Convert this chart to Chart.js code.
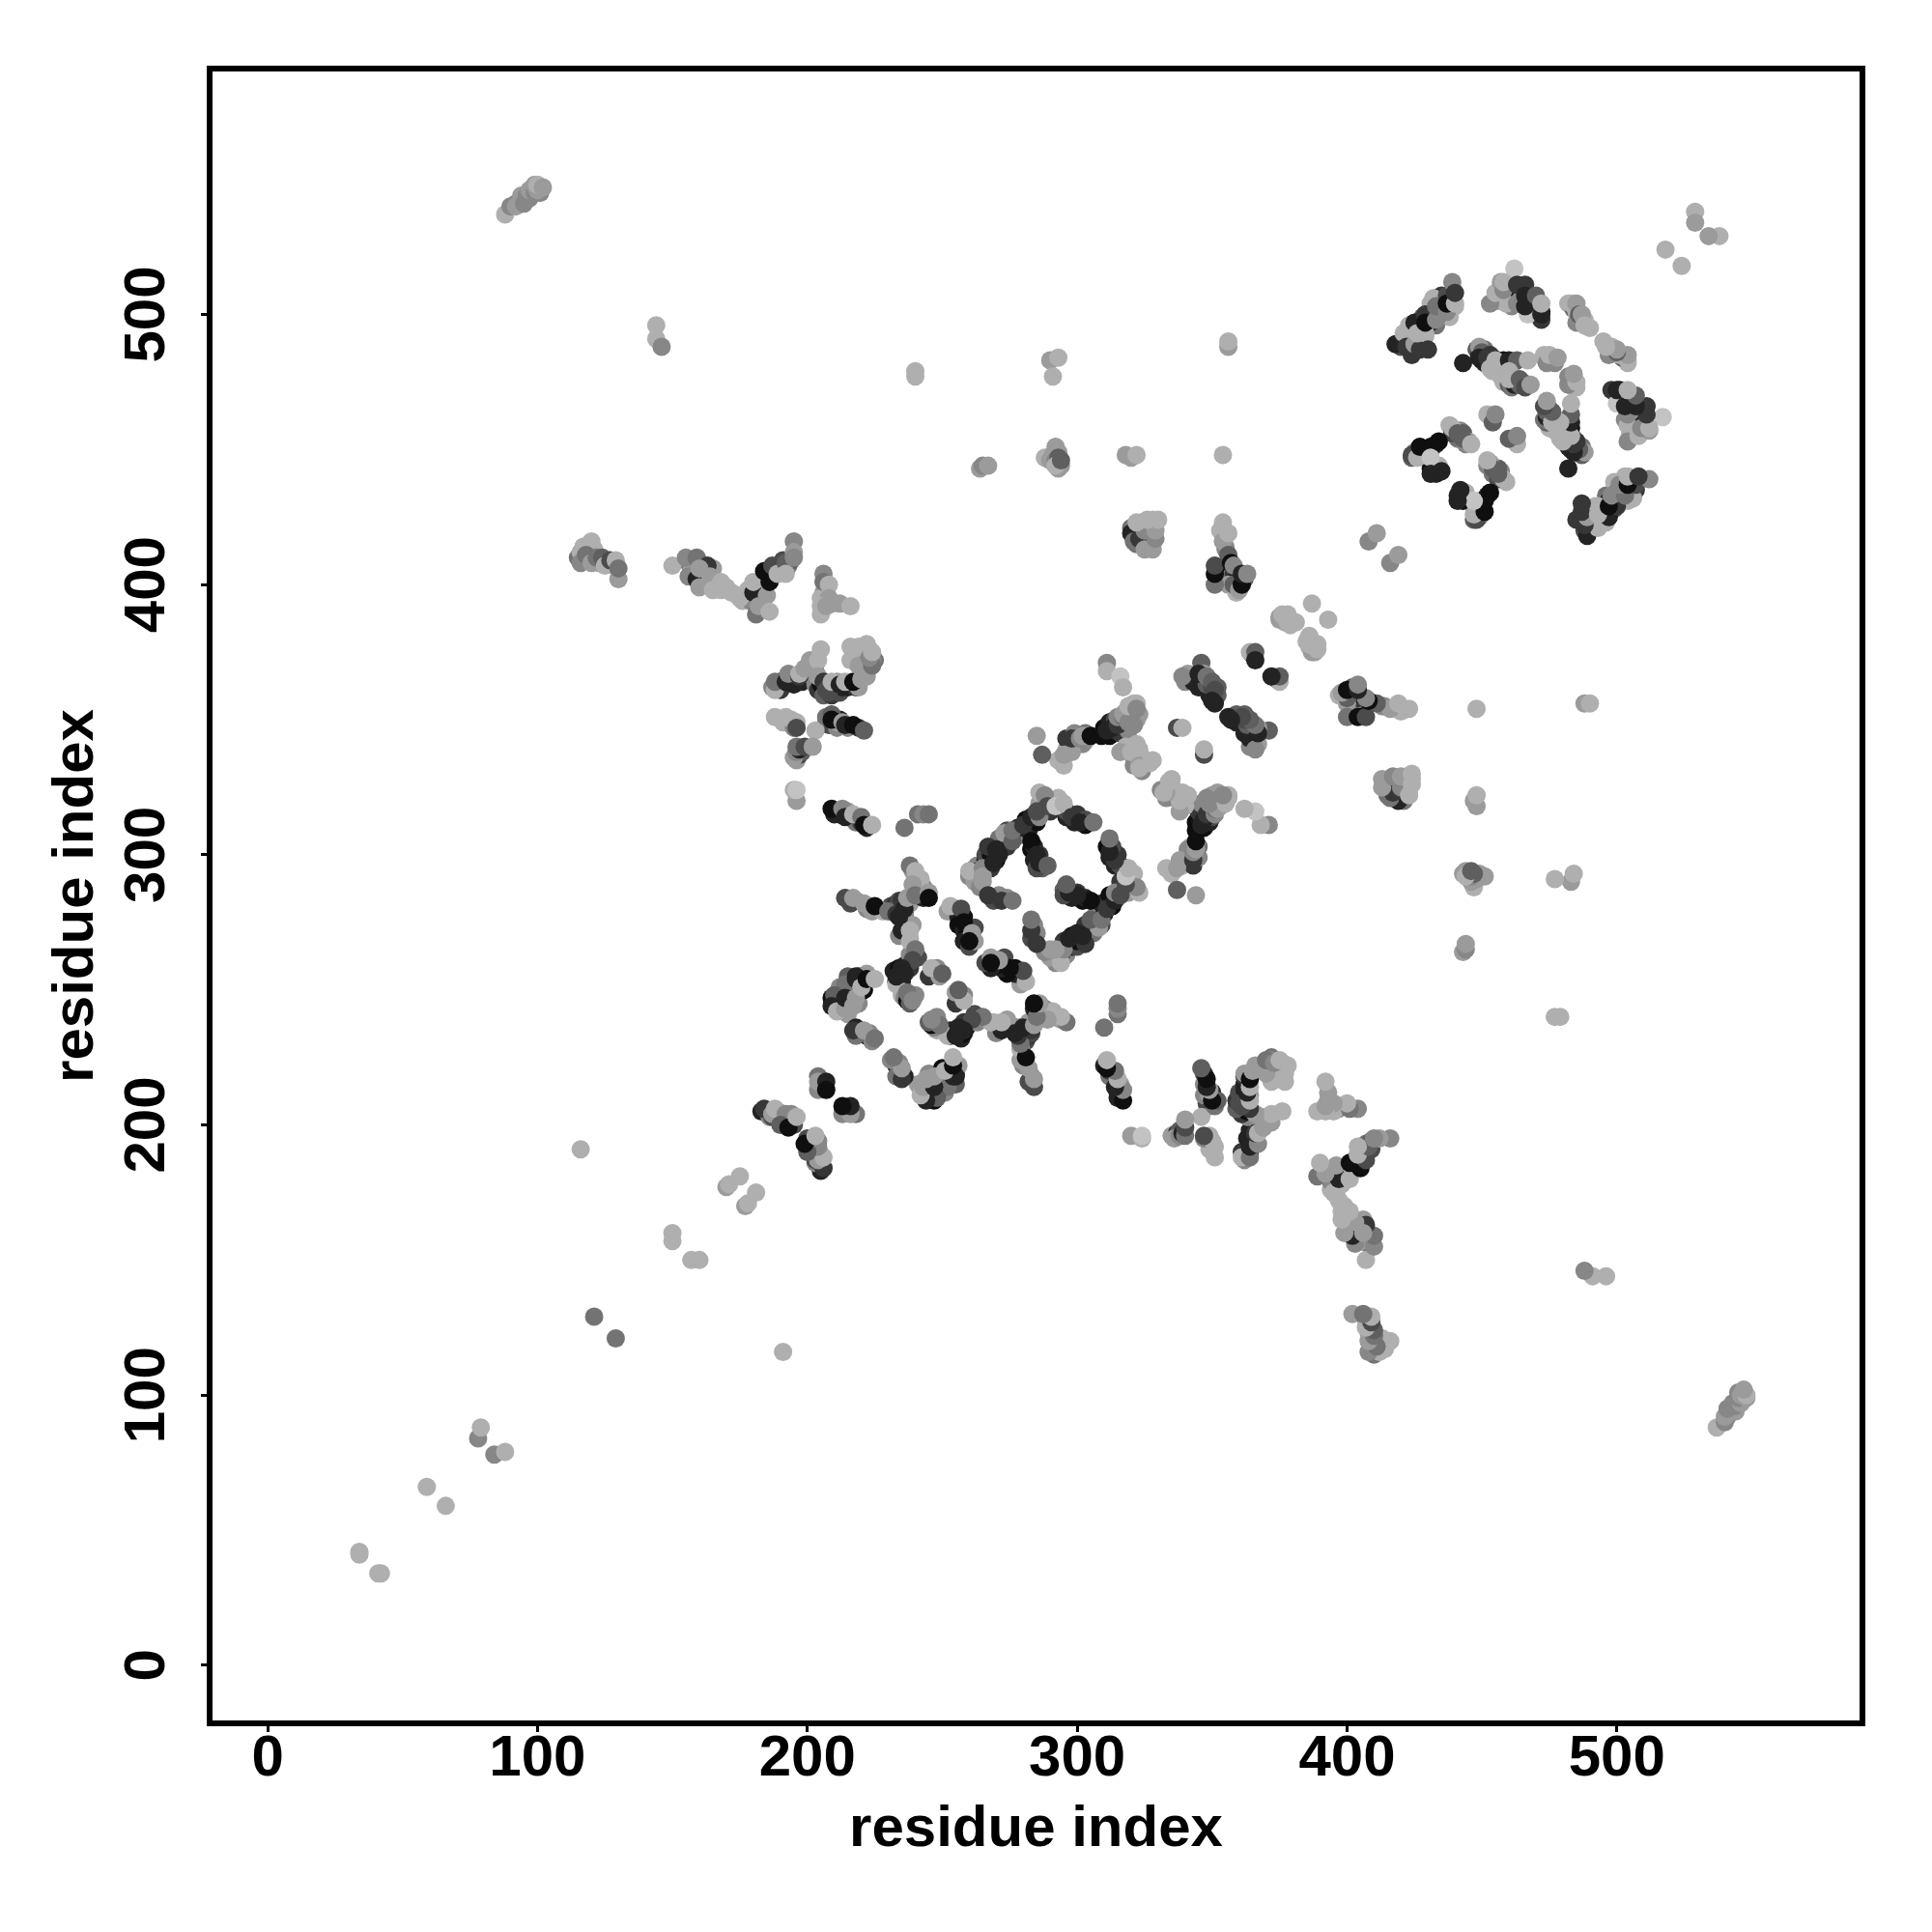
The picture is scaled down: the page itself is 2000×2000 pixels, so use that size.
<!DOCTYPE html>
<html>
<head>
<meta charset="utf-8">
<style>
  html, body { margin: 0; padding: 0; background: #fff; }
  #wrap { width: 2000px; height: 2000px; }
</style>
<script src="https://cdn.jsdelivr.net/npm/chart.js@4"></script>
</head>
<body>
<div id="wrap"><canvas id="contactMap" width="2000" height="2000"></canvas></div>
<script>
// every contact is [i, j, shade], i < j, shade 0 (weak, light) .. 9 (strong, dark)
const tickValues = [0, 100, 200, 300, 400, 500];
const axisTitle = "residue index";

const shortRange = [
  [34,42,1],[34,41,1],[59,66,1],[78,84,3],[79,88,1],[121,129,4],[116,191,1],
  [150,160,1],[150,157,1],[170,177,2],[171,178,1],[175,181,1]
];

const farContacts = [
  [88,537,1],[90,540,3],[92,541,3],[92,540,2],[94,544,2],[95,541,3],[97,543,3],[96,544,3],[97,546,2],[99,545,3],[101,545,3],[100,546,2],[99,548,2],[100,548,1],[102,547,2],
  [144,496,1],[144,491,1],[146,488,3],[240,479,1],[240,477,1],
  [264,443,2],[265,444,3],[267,444,2],[290,483,2],[291,477,1],[293,484,1],
  [288,447,1],[291,448,2],[290,446,2],[292,446,3],[292,451,2],[293,449,2],[293,447,5],[294,444,2],[293,443,2],[292,444,1],[294,446,5],
  [318,448,2],[320,447,2],[322,448,1],[356,488,2],[356,490,1],[354,448,1],
  [518,524,1],[529,538,1],[529,534,2],[408,416,3],[411,419,2]
];

const cluster116 = [
  [115,410,4],[117,409,2],[119,412,3],[121,413,1],[123,408,2],[125,409,4],[128,407,1],
  [116,412,1],[117,414,1],[120,416,1],[116,408,3],[118,411,4],[120,408,2],[122,410,4],
  [124,410,5],[125,407,1],[127,409,6],[129,409,1],[130,402,2],[130,406,4]
];

const cluster150 = [
  [156,408,4],[158,407,3],[157,405,2],[160,408,5],[161,403,6],[162,401,3],[165,406,2],[166,400,1],
  [170,399,1],[174,396,1],[176,394,1],[179,394,3],[183,394,1],[182,398,7],[184,400,5],[185,403,9],
  [187,403,9],[188,405,8],[183,402,1],[190,406,6],[191,409,6],[193,407,4],[194,409,5],
  [150,407,1],[155,410,3],[159,410,4],[156,403,3],[163,407,7],[159,402,8],[160,406,2],
  [164,403,2],[160,399,2],[165,398,1],[168,401,1],[168,398,1],[172,397,1],[175,395,1],
  [178,398,1],[180,397,8],[180,401,1],[181,389,4],[182,392,2],[185,396,2],[186,390,1],
  [184,405,9],[186,401,9],[187,407,6],[189,404,1],[192,408,5],[192,404,1],[195,416,3],
  [195,412,2],[195,410,3]
];

const cluster205 = [
  [206,397,2],[207,398,3],[205,395,1],[209,393,2],
  [206,404,3],[206,401,4],[208,400,1],[208,395,2],[205,392,1],[205,389,1],[207,392,2],
  [212,393,2],[216,392,1]
];

const cluster190 = [
  [187,362,3],[189,362,8],[190,361,7],[190,364,9],[194,365,3],[195,363,8],[198,364,8],[200,367,2],
  [202,369,1],[203,368,3],[203,363,3],[204,361,7],[205,363,9],[206,359,5],[208,362,8],[209,359,7],
  [210,361,8],[211,364,2],[212,360,6],[213,362,8],[215,362,8],[218,362,7],[219,362,2],[222,366,2],
  [221,368,2],[218,375,1],[220,373,1],[221,375,1],[223,376,1],[222,371,5],[225,372,4],[224,372,3],
  [188,361,1],[188,364,4],[192,364,8],[193,367,3],[197,366,7],[197,367,1],[199,369,2],
  [201,372,2],[204,372,1],[205,376,1],[204,366,2],[206,364,7],[208,360,6],[207,361,6],
  [209,364,1],[212,363,8],[214,364,1],[217,364,9],[220,365,2],[216,372,1],[219,370,2],
  [216,377,1],[219,377,1],[222,378,1],[224,370,4],[223,373,3],[224,375,1]
];

const cluster345 = [
  [207,349,4],[208,348,6],[211,347,3],[212,350,8],[211,349,2],[215,347,3],[219,347,7],[191,349,1],
  [194,350,1],[195,347,3],[196,335,2],[197,337,7],[198,338,5],[212,315,8],[210,315,8],[215,316,2],
  [218,312,4],[220,312,7],[222,310,8],
  [188,351,1],[192,351,1],[196,349,1],[196,347,6],[203,346,1],[207,351,4],[209,352,5],
  [209,350,9],[213,349,2],[214,348,8],[217,348,9],[221,346,5],
  [195,336,2],[196,338,3],[197,339,8],[196,340,4],[199,340,6],[202,340,2],
  [196,320,2],[195,324,1],[196,324,0],
  [209,317,9],[213,317,3],[214,314,8],[217,315,1],[220,314,4],[221,311,9],[224,311,1],
  [236,310,4],[241,315,4],[243,315,3],[245,315,4]
];

const cluster240 = [
  [231,281,6],[233,282,7],[234,280,8],[236,279,7],[234,283,6],[236,277,7],[237,282,4],[238,282,2],
  [241,289,3],[243,288,3],[243,284,8],[240,292,2],[239,294,2],[236,277,3],[216,282,6],[218,283,6],
  [222,280,3],[224,279,2],[228,279,1],[239,274,2],[234,270,3],[238,269,1],
  [232,257,8],[233,253,8],[234,258,9],[234,255,9],[235,253,8],[236,259,8],[238,258,7],[238,263,3],
  [233,252,1],[241,262,6],[235,248,1],[236,247,3],[237,246,9],[238,245,5],[240,248,3],
  [211,244,9],[212,246,6],[212,249,4],[213,243,9],[216,249,7],[216,252,9],[216,245,3],[215,241,2],
  [219,249,8],[219,245,3],[220,253,3],[209,247,9],[212,251,3],[215,255,5],[219,255,7],[221,250,9],[222,256,2],
  [245,255,7],[248,258,3],[249,255,2],[218,236,8],[222,233,9],[223,234,3],[224,231,3],[218,233,4],
  [204,213,3],[205,216,3],[204,218,4],
  [183,205,8],[186,203,3],[187,203,6],[189,205,4],[190,203,8],[191,201,7],[193,202,4],[194,201,3],[194,204,3],[195,200,6],
  [252,279,2],[255,280,4],[256,277,8],[258,277,9],[256,274,9],[258,272,8],[259,270,9],[261,269,9],[262,273,6],[258,268,8],[260,266,6],[262,268,2],
  [214,284,6],[217,284,2],[221,282,2],[225,281,9],[230,279,4],[233,278,7],[235,283,7],
  [236,280,8],[234,277,8],[235,272,8],[238,272,1],[238,296,4],[240,294,1],[242,291,1],
  [239,289,2],[237,284,2],[240,285,4],[245,286,2],[245,284,9],
  [238,268,1],[240,265,4],[239,261,6],[235,258,8],[233,255,8],[236,256,8],[237,249,4],[239,246,3],
  [214,252,4],[210,248,5],[209,244,8],[211,242,1],[214,243,2],[214,247,8],[218,247,2],
  [217,244,2],[218,255,8],[218,254,8],[220,251,1],[222,254,9],[225,254,1],
  [246,258,1],[250,256,5],[217,235,7],[221,235,2],[225,232,4],
  [204,216,2],[207,216,8],[207,213,9],
  [184,206,7],[187,204,2],[188,206,1],[192,204,3],[190,200,5],[193,199,9],[196,203,1],
  [253,281,1],[257,280,6],[258,275,9],[261,271,2],[260,268,9]
];

const squareContacts = [
  [260,292,3],[262,295,2],[263,296,3],[263,293,3],[262,290,2],[264,288,3],[263,294,7],[266,298,8],
  [266,300,6],[268,300,9],[268,295,7],[270,298,9],[272,302,5],[272,304,3],[271,306,4],[274,306,8],
  [274,309,6],[274,303,7],[278,307,3],[278,310,8],[281,313,9],[282,309,8],[283,312,7],[285,312,9],
  [286,319,2],[287,317,3],[290,316,7],[293,321,1],[296,314,8],[296,316,6],[299,312,8],[300,315,7],
  [303,311,9],[303,313,6],[283,302,9],[284,303,8],[284,298,8],[287,295,5],[286,300,7],[285,295,6],
  [269,283,6],[271,285,3],[274,284,3],
  [260,294,1],[265,295,3],[265,292,2],[265,290,2],[267,285,7],[272,283,7],[276,283,4],
  [267,303,7],[269,297,8],[271,300,8],[270,302,8],[273,308,2],[276,305,5],[276,309,4],
  [280,311,7],[283,314,8],[286,314,3],[285,316,6],[286,323,1],[288,322,3],[289,318,6],
  [292,318,0],[295,319,1],[298,314,7],[301,312,8],[306,312,4],
  [283,305,9],[285,300,8],[286,297,8],[289,296,5]
];

const yArmContacts = [
  [293,335,1],[296,339,1],[296,343,7],[299,345,3],[299,342,8],[300,341,6],[303,342,1],[303,345,4],
  [302,341,3],[309,344,9],[310,347,9],[312,344,9],[312,349,8],[314,346,8],[314,350,6],[316,345,7],
  [316,349,3],[318,347,6],[318,353,2],[319,346,3],[320,351,2],[320,354,2],[322,350,2],[322,356,1],
  [323,352,2],[318,340,1],[321,336,2],[322,341,1],[324,336,1],[321,333,3],[324,331,3],[328,335,1],
  [340,364,3],[341,367,2],[343,364,8],[345,362,8],[347,362,8],[349,361,8],[349,359,8],[348,363,5],
  [350,362,6],[352,359,5],[352,362,5],[351,356,8],[365,374,8],
  [285,344,2],[287,337,5],[295,333,1],[295,337,2],[298,338,2],[298,343,7],[301,343,3],
  [302,344,2],[304,344,2],[305,344,9],[311,346,8],[313,347,8],[315,348,7],[315,351,3],
  [317,351,4],[317,352,2],[319,349,3],[321,348,3],[319,355,1],[321,356,1],[322,354,3],
  [316,338,2],[320,338,1],[323,339,1],[323,333,2],[323,332,1],[327,334,1],
  [337,347,6],[339,347,1],[311,371,3],[311,368,1],[316,366,0],[317,362,1],
  [339,366,3],[346,371,5],[347,367,2],[345,367,8],[348,366,4],[350,364,5],[351,361,6],[350,357,8],
  [364,375,1],[366,375,5],[366,372,8]
];

const cluster320 = [
  [320,421,4],[321,418,8],[322,415,4],[324,420,2],[325,416,7],[327,415,2],[328,418,2],[324,423,1],[328,424,1],[322,420,1],
  [353,420,1],[355,414,2],[355,413,3],[352,405,9],[356,404,9],[357,403,4],[358,404,7],[359,402,8],[361,402,4],[356,400,2],[360,399,7],[359,397,1],[362,402,5],
  [375,388,2],[377,386,1],[381,386,1],[378,389,1],[379,385,1],
  [320,419,8],[321,416,4],[323,417,7],[325,413,2],[328,413,2],[325,420,3],[322,423,1],
  [329,417,3],[329,420,2],[326,424,1],[330,424,1],
  [354,423,1],[354,416,2],[356,419,1],[356,411,5],[351,400,4],[351,404,9],[351,407,6],
  [357,408,9],[358,407,3],[358,400,5],[360,398,2],[361,400,9],[361,404,8],[363,404,3],
  [375,387,2],[376,389,1],[377,388,1],[378,386,1],[379,387,1],[387,393,1]
];

const bundleContacts = [
  [420,488,6],[424,485,7],[423,496,1],[425,491,1],[429,492,1],[433,496,4],[431,504,1],[435,507,7],
  [438,499,1],[440,503,1],[428,499,5],[431,497,8],[434,500,6],[436,503,2],[423,491,3],
  [456,505,2],[458,506,4],[459,507,7],[461,509,5],[464,507,9],[465,509,9],[464,505,2],[467,504,2],
  [469,503,8],[470,502,9],[471,500,5],[467,502,1],[461,503,3],[459,504,1],[469,505,8],[472,501,9],[472,498,7],
  [482,504,1],[484,502,5],[485,501,1],[486,498,1],[485,497,3],[488,498,1],[490,495,1],
  [448,487,5],[449,485,7],[450,483,9],[451,482,8],[453,482,9],[451,486,3],[451,487,4],[454,484,5],
  [455,481,2],[456,480,1],[454,479,1],[457,482,1],[458,483,9],[459,482,9],[459,480,8],[461,481,1],
  [457,477,1],[458,475,1],[460,474,5],[461,473,4],[462,474,8],[464,474,5],[465,475,4],
  [473,484,1],[475,483,2],[476,484,3],[477,482,3],
  [424,447,5],[425,449,3],[427,449,8],[429,450,5],[429,447,1],[431,449,1],[433,452,8],[432,444,0],
  [433,443,0],[431,443,9],[433,441,8],[434,444,1],[438,459,1],[440,457,2],[441,454,4],[442,457,3],
  [444,452,3],[443,456,5],[445,453,2],[439,456,6],
  [418,489,8],[421,493,1],[422,488,7],[425,497,8],[425,489,2],[427,487,7],[426,493,1],
  [429,500,7],[429,493,1],[429,497,9],[430,487,7],[432,506,1],[433,498,3],[433,503,4],
  [437,501,3],[437,507,6],[437,504,9],[440,504,1],[439,512,3],[440,508,7],
  [443,482,8],[462,517,0],[453,504,3],[455,508,1],[457,512,2],[458,509,3],[458,512,1],
  [463,504,3],[463,511,7],[466,511,7],[466,507,8],[467,500,0],[466,503,8],[470,507,5],
  [472,500,8],[472,504,1],[483,504,1],[485,504,2],[486,500,5],[487,500,2],[488,496,1],
  [449,488,2],[450,486,5],[449,484,8],[452,484,7],[453,485,7],[453,480,1],[455,483,1],
  [460,483,8],[463,483,5],[460,479,1],[460,476,1],[464,476,5],[466,473,6],[468,474,2],
  [467,483,1],[473,485,1],[474,482,3],[475,485,1],[478,484,2],
  [452,463,1],[454,460,5],[455,463,3],
  [424,448,6],[426,447,1],[427,451,9],[431,451,9],[431,447,0],[434,453,9],[431,441,8],
  [435,442,8],[439,458,1],[441,456,5],[443,454,5],[446,452,1]
];

const allContacts = [
  ...shortRange, ...farContacts, ...cluster116, ...cluster150, ...cluster205, ...cluster190,
  ...cluster345, ...cluster240, ...squareContacts, ...yArmContacts, ...cluster320, ...bundleContacts
];

function shadeColor(shade) {
  const g = 195 - shade * 20;
  return `rgb(${g},${g},${g})`;
}

// the map is symmetric: each pair is plotted on both sides of the diagonal
const points = [];
const colors = [];
for (const [i, j, shade] of allContacts) {
  points.push({ x: i, y: j }, { x: j, y: i });
  colors.push(shadeColor(shade), shadeColor(shade));
}

const FONT = "'Liberation Sans', Arial, Helvetica, sans-serif";
const boxBorder = {
  id: "boxBorder",
  afterDraw(chart) {
    const { ctx, chartArea: a } = chart;
    ctx.save();
    ctx.strokeStyle = "#000";
    ctx.lineWidth = 6;
    ctx.strokeRect(a.left, a.top, a.right - a.left, a.bottom - a.top);
    ctx.restore();
  }
};

function axisOptions(extra) {
  return Object.assign({
    type: "linear",
    min: -21.5,
    max: 591,
    afterBuildTicks: scale => { scale.ticks = tickValues.map(value => ({ value })); },
    border: { display: false },
    grid: {
      drawOnChartArea: false,
      drawTicks: true,
      tickLength: 9,
      tickWidth: 3,
      tickColor: "#000"
    }
  }, extra);
}

new Chart(document.getElementById("contactMap"), {
  type: "scatter",
  data: {
    datasets: [{
      data: points,
      backgroundColor: colors,
      borderWidth: 0,
      pointRadius: 9.5,
      pointHoverRadius: 9.5
    }]
  },
  options: {
    responsive: false,
    animation: false,
    layout: { padding: { top: 71, right: 72, bottom: 0, left: 0 } },
    plugins: { legend: { display: false }, tooltip: { enabled: false } },
    scales: {
      x: axisOptions({
        afterFit: scale => { scale.height = 216; },
        ticks: {
          autoSkip: false, maxRotation: 0, minRotation: 0, padding: -2,
          color: "#000", font: { family: FONT, size: 60, weight: "bold", lineHeight: 1 }
        },
        title: {
          display: true, text: axisTitle, color: "#000",
          font: { family: FONT, size: 60, weight: "bold", lineHeight: 1.2 },
          padding: { top: 0, bottom: 70 }
        }
      }),
      y: axisOptions({
        afterFit: scale => { scale.width = 217; },
        ticks: {
          autoSkip: false, minRotation: 90, maxRotation: 90, crossAlign: "center", padding: 4,
          color: "#000", font: { family: FONT, size: 60, weight: "bold", lineHeight: 1 }
        },
        title: {
          display: true, text: axisTitle, color: "#000",
          font: { family: FONT, size: 60, weight: "bold", lineHeight: 1.2 },
          padding: { top: 43, bottom: 0 }
        }
      })
    }
  },
  plugins: [boxBorder]
});
</script>
</body>
</html>
